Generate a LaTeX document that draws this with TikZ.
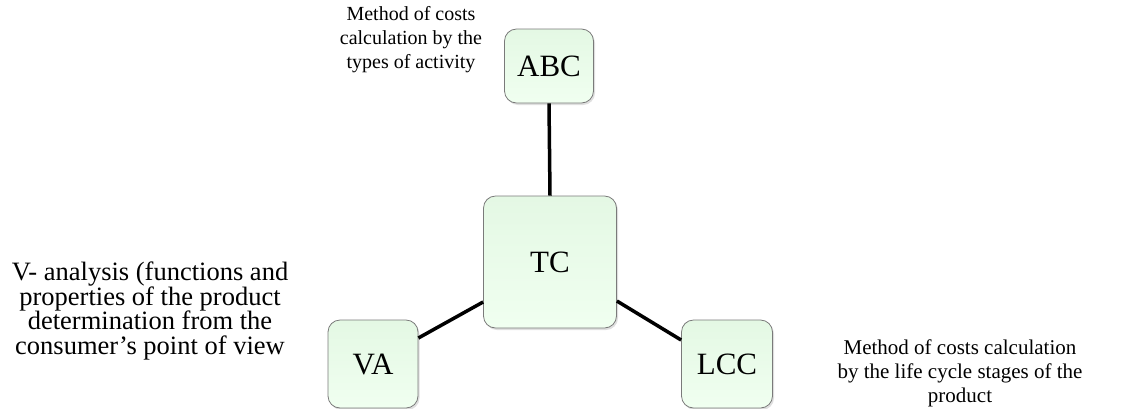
\documentclass[tikz,border=0pt]{standalone}
\usepackage{fontspec}
\setmainfont{Liberation Serif}
\usetikzlibrary{shadows}
\definecolor{boxtop}{HTML}{E4F8E4}
\definecolor{boxbot}{HTML}{F0FFF0}
\definecolor{boxline}{HTML}{7A7A7A}
\tikzset{
  box/.style={draw=boxline, line width=0.8pt, rounded corners=12pt, top color=boxtop, bottom color=boxbot,
    drop shadow={shadow xshift=1.5pt, shadow yshift=-2pt, opacity=0.25}, font=\fontsize{31}{34}\selectfont, inner sep=0pt},
  desc/.style={align=center, inner sep=0pt},
  link/.style={line width=3.5pt, black}
}
\begin{document}
\begin{tikzpicture}[x=1pt,y=-1pt]
\useasboundingbox (0,0) rectangle (1130,408);
\node[box, minimum width=133pt, minimum height=132pt] (tc) at (550,262) {TC};
\node[box, minimum width=89pt, minimum height=74pt] (abc) at (549,66) {ABC};
\node[box, minimum width=90pt, minimum height=88pt] (va) at (373,364) {VA};
\node[box, minimum width=91pt, minimum height=88pt] (lcc) at (727,364) {LCC};
\draw[link] (abc.south) -- (tc.north);
\draw[link] (va.east |- 0,338) -- (tc.west |- 0,302);
\draw[link] (tc.east |- 0,301) -- (lcc.west |- 0,340);
\node[desc, font=\fontsize{20}{24}\selectfont] (t1) at (411,40) {Method of costs\\calculation by the\\types of activity};
\node[desc, font=\fontsize{26.5}{24.5}\selectfont] (t2) at (150,311) {V- analysis (functions and\\properties of the product\\determination from the\\consumer’s point of view};
\node[desc, font=\fontsize{21}{24}\selectfont] (t3) at (960,373) {Method of costs calculation\\by the life cycle stages of the\\product};
\end{tikzpicture}
\end{document}
